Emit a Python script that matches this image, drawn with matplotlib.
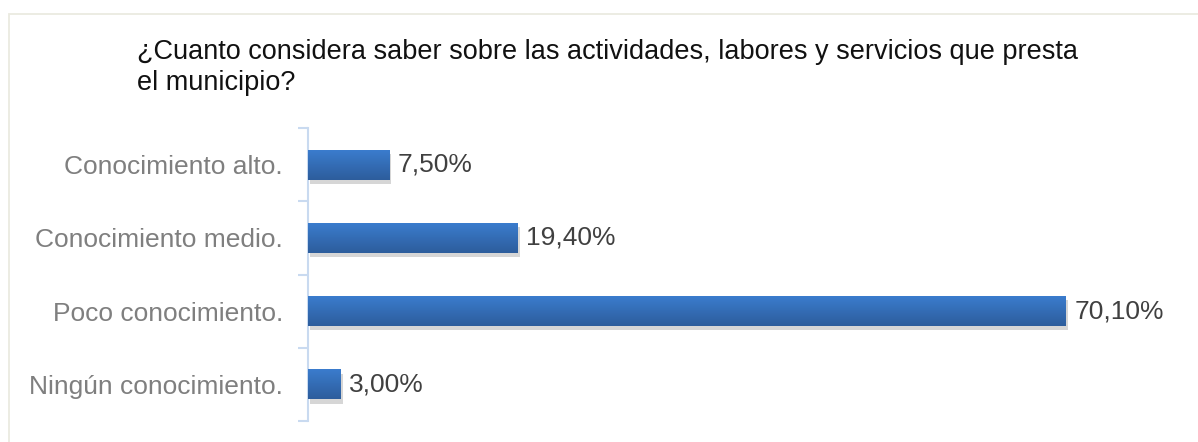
import matplotlib.pyplot as plt
import matplotlib.patheffects as pe
import numpy as np
from matplotlib.patches import Rectangle
from matplotlib.colors import LinearSegmentedColormap

plt.rcParams['font.family'] = ['Liberation Sans', 'DejaVu Sans']

categories = ['Ningún conocimiento.', 'Poco conocimiento.',
              'Conocimiento medio.', 'Conocimiento alto.']
values = [3.00, 70.10, 19.40, 7.50]
value_labels = ['3,00%', '70,10%', '19,40%', '7,50%']
title = ('¿Cuanto considera saber sobre las actividades, labores y servicios que presta\n'
         'el municipio?')

fig = plt.figure(figsize=(11.98, 4.42), dpi=100)

# light chart border (Excel style)
fig.patches.append(Rectangle((9 / 1198, -0.1), 1.1, 1 - 14 / 442 + 0.1,
                             transform=fig.transFigure, fill=False,
                             edgecolor='#ebeae0', linewidth=1.3))

ax = fig.add_axes([308 / 1198, 21 / 442, 865 / 1198, 293 / 442])

y = np.arange(len(categories))
bars = ax.barh(y, values, height=0.41, color='#3670ba', zorder=2,
               path_effects=[pe.SimplePatchShadow(offset=(1.5, -3), shadow_rgbFace='#8c8c8c', alpha=0.35),
                             pe.Normal()])

# vertical gradient on each bar, lighter on top
grad = np.linspace(0, 1, 64).reshape(-1, 1)
cmap = LinearSegmentedColormap.from_list('barg', ['#3b7dcf', '#2d5d9c'])
for b in bars:
    x0, y0, w, h = b.get_x(), b.get_y(), b.get_width(), b.get_height()
    im = ax.imshow(grad, extent=(x0, x0 + w, y0, y0 + h), cmap=cmap,
                   aspect='auto', zorder=3, origin='upper')
    im.set_clip_path(b)

for yi, v, lab in zip(y, values, value_labels):
    ax.text(v + 0.8, yi, lab, va='center', ha='left', fontsize=19, color='#404040', zorder=4)

ax.set_xlim(0, 80)
ax.set_ylim(-0.5, len(categories) - 0.5)

ax.set_yticks(y)
ax.set_yticklabels(categories, fontsize=19, color='#7f7f7f')
ax.set_yticks(np.arange(-0.5, len(categories), 1), minor=True)
ax.tick_params(axis='y', which='major', length=0, pad=18)
ax.tick_params(axis='y', which='minor', length=7, width=1.5, color='#c9daf0')
ax.set_xticks([])

for s in ['top', 'right', 'bottom']:
    ax.spines[s].set_visible(False)
ax.spines['left'].set_color('#c9daf0')
ax.spines['left'].set_linewidth(1.5)

fig.text(137 / 1198, 1 - 39 / 442, title, ha='left', va='top', fontsize=19.5,
         color='#111111', linespacing=1.27)

fig.savefig('out.png', dpi=100)
